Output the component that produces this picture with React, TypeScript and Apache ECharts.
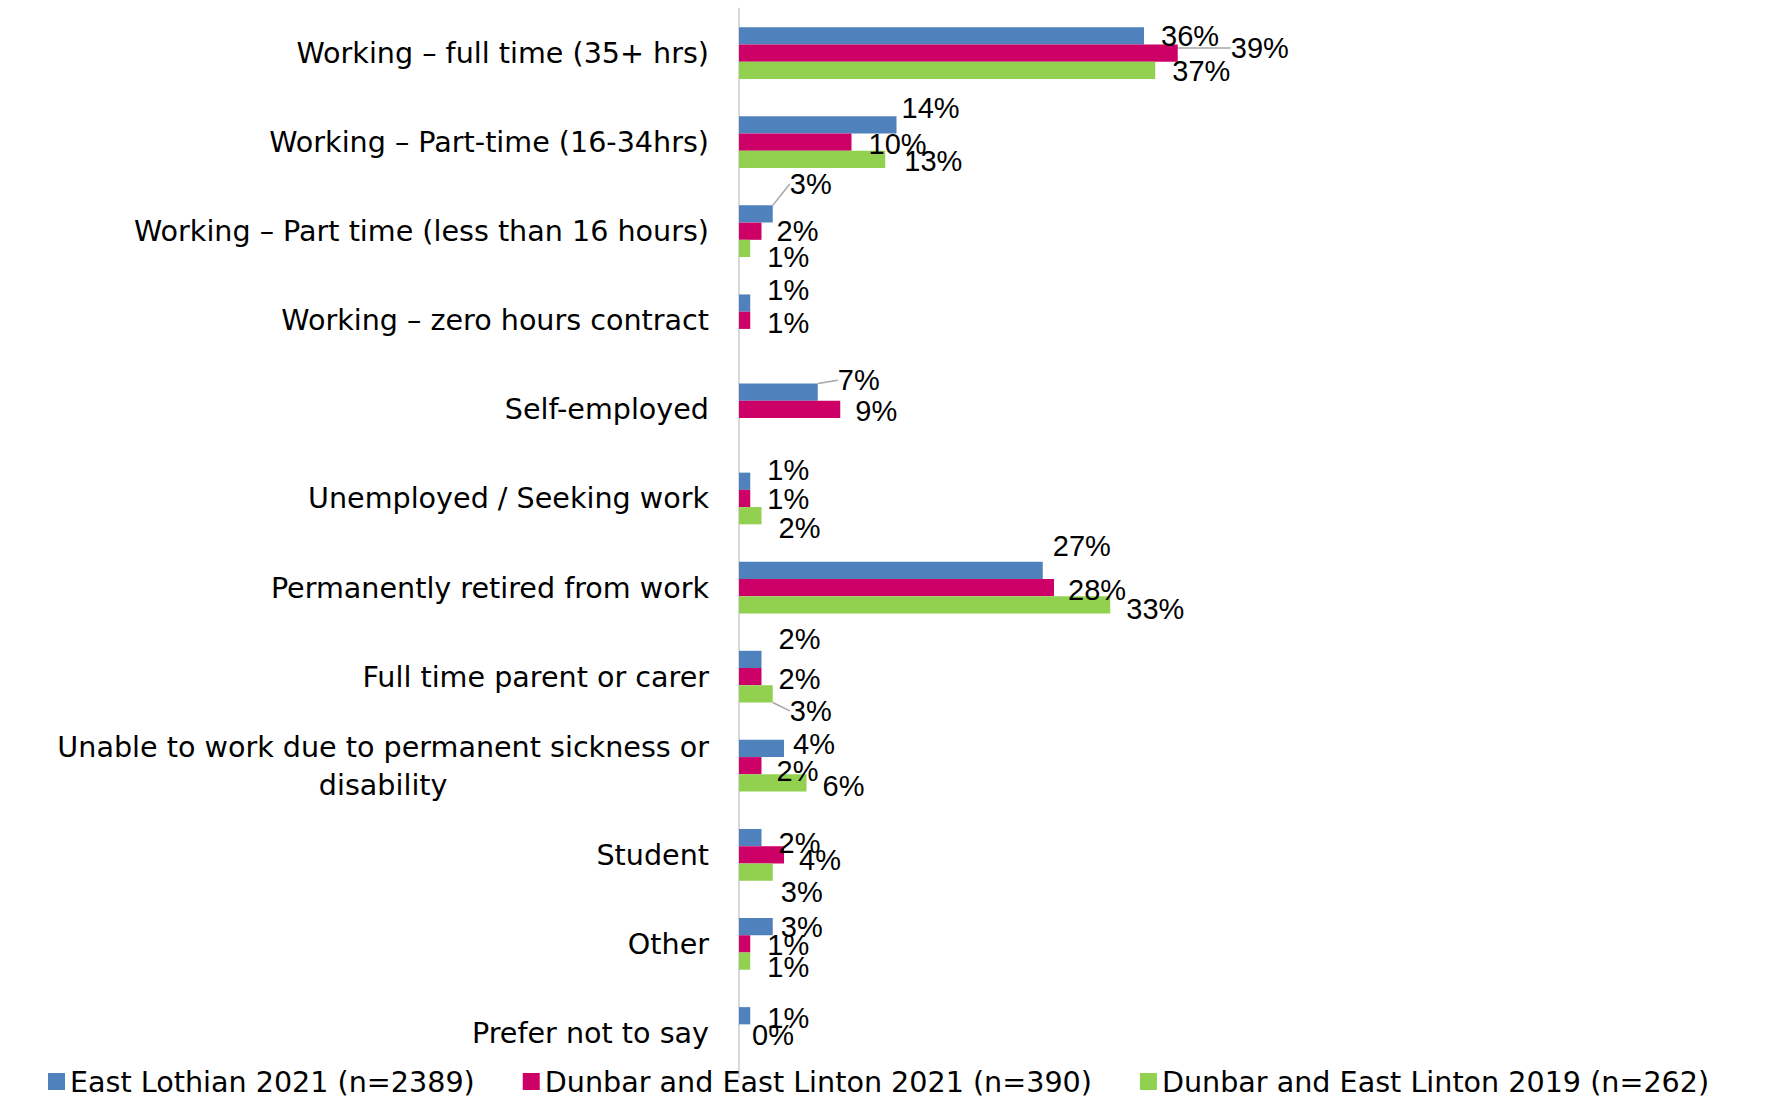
import React, { useEffect, useRef } from "react";
import * as echarts from "echarts";

const categories = [
  "Working – full time (35+ hrs)",
  "Working – Part-time (16-34hrs)",
  "Working – Part time (less than 16 hours)",
  "Working – zero hours contract",
  "Self-employed",
  "Unemployed / Seeking work",
  "Permanently retired from work",
  "Full time parent or carer",
  "Unable to work due to permanent sickness or\ndisability",
  "Student",
  "Other",
  "Prefer not to say",
];

const seriesNames = [
  "East Lothian 2021 (n=2389)",
  "Dunbar and East Linton 2021 (n=390)",
  "Dunbar and East Linton 2019 (n=262)",
];

const eastLothian2021 = [36, 14, 3, 1, 7, 1, 27, 2, 4, 2, 3, 1];
const dunbar2021 = [39, 10, 2, 1, 9, 1, 28, 2, 2, 4, 1, 0];
const dunbar2019: (number | null)[] = [37, 13, 1, null, null, 2, 33, 3, 6, 3, 1, null];

const colors = ["#4F81BD", "#CC0066", "#92D050"];

// label nudges (dx, dy) in px, per series, per category
const labelNudges: number[][][] = [
  [[0, 0], [-12, -17], [0, -30], [0, -13], [3, -12], [0, -11], [-7, -24], [0, -20], [-8, -4], [0, 5], [-9, 0], [0, 2]],
  [[36, -5], [0, 2], [-2, 0], [0, 3], [-2, 2], [0, 1], [-3, 2], [0, 2], [-2, 5], [-2, 5], [0, 1], [-4, 2]],
  [[0, 1], [2, 2], [0, 9], [0, 0], [0, 0], [0, 12], [-1, 4], [0, 17], [-1, 3], [-9, 20], [0, 6], [0, 0]],
];
// which labels have a leader line
const leaderLines: number[][] = [[2, 4], [0], [7]];

const TEXT_FONT = "DejaVu Sans";
const TEXT_FS = 28.6;
const NUM_FONT = "Liberation Sans";
const NUM_FS = 29;

export default function App() {
  const ref = useRef<HTMLDivElement>(null);

  useEffect(() => {
    document.body.style.margin = "0";
    if (!ref.current) return;
    const chart = echarts.init(ref.current, undefined, { renderer: "svg" });
    const allData = [eastLothian2021, dunbar2021, dunbar2019];

    const series = allData.map((arr, si) => ({
      name: seriesNames[si],
      type: "bar",
      barGap: "0%",
      barCategoryGap: "42%",
      itemStyle: { color: colors[si] },
      label: {
        show: true,
        position: "right",
        distance: 17,
        formatter: "{c}%",
        color: "#000",
        fontFamily: NUM_FONT,
        fontSize: NUM_FS,
      },
      labelLine: { show: false },
      labelLayout: (p: any) => {
        const n = labelNudges[p.seriesIndex][p.dataIndex];
        return { dx: n[0], dy: n[1] };
      },
      data: arr.map((v, ci) =>
        leaderLines[si].includes(ci)
          ? {
              value: v,
              labelLine: {
                show: true,
                lineStyle: { color: "#A6A6A6", width: 1.5 },
              },
            }
          : v
      ),
    }));

    chart.setOption({
      animation: false,
      grid: { left: 739, top: 8.5, bottom: 22.5, width: 900, containLabel: false },
      legend: {
        data: seriesNames,
        left: 43,
        top: 1062,
        width: 1724,
        itemWidth: 17,
        itemHeight: 17,
        itemGap: 48,
        icon: "rect",
        textStyle: { fontFamily: TEXT_FONT, fontSize: TEXT_FS, color: "#000" },
      },
      xAxis: {
        type: "value",
        min: 0,
        max: 80,
        show: false,
      },
      yAxis: {
        type: "category",
        inverse: true,
        data: categories,
        axisLine: { show: true, lineStyle: { color: "#D9D9D9", width: 2 } },
        axisTick: { show: false },
        axisLabel: {
          interval: 0,
          margin: 30,
          color: "#000",
          fontFamily: TEXT_FONT,
          fontSize: TEXT_FS,
          formatter: (v: string) =>
            v.includes("\n")
              ? v
                  .split("\n")
                  .map((l) => `{c|${l}}`)
                  .join("\n")
              : v,
          rich: {
            c: {
              align: "center",
              fontFamily: TEXT_FONT,
              fontSize: TEXT_FS,
              color: "#000",
              lineHeight: 38,
            },
          },
        },
      },
      series,
    });

    return () => chart.dispose();
  }, []);

  return <div ref={ref} style={{ width: 1769, height: 1100 }} />;
}
